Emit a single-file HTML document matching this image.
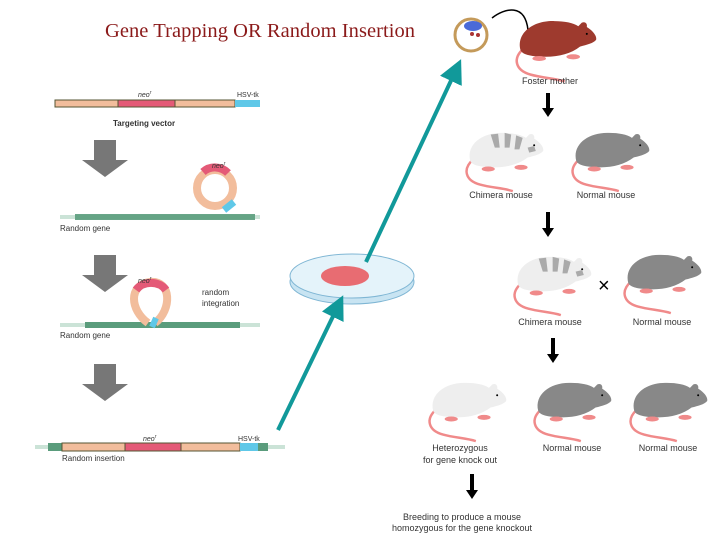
<!DOCTYPE html>
<html><head><style>
body{margin:0;background:#fff}
text{font-family:"Liberation Sans",sans-serif}
</style></head><body>
<svg width="728" height="546" viewBox="0 0 728 546" xmlns="http://www.w3.org/2000/svg">
<defs>
<g id="m">
<path d="M14,38 C0,50 4,64 22,69 C36,73 50,73 62,77" fill="none" stroke="#f08a8a" stroke-width="3"/>
<path d="M10,40 C5,20 25,5 50,6 C62,6 72,8 78,12 L82,8 C86,6 89,9 88,13 C96,18 100,24 99,28 C96,32 88,34 80,36 C70,44 55,48 40,48 C25,48 12,46 10,40 Z"/>
<ellipse cx="32" cy="50" rx="8" ry="3" fill="#f08a8a"/>
<ellipse cx="72" cy="48" rx="8" ry="3" fill="#f08a8a"/>
<circle cx="88" cy="21" r="1.2" fill="#000"/>
</g>
<g id="c">
<use href="#m" fill="#eeeeee"/>
<path d="M35,8 L40,24 L46,24 L44,7Z M52,6 L52,24 L58,24 L60,8Z M66,9 L64,26 L70,26 L74,12Z M80,24 L82,30 L90,28 L88,22Z" fill="#aaa"/>
</g>
<marker id="ta" markerWidth="6" markerHeight="6" refX="3" refY="3" orient="auto"><path d="M0,0 L6,3 L0,6Z" fill="#11999a"/></marker>
</defs>
<text x="105" y="37" font-size="20.5" fill="#8b1a1a" style="font-family:'Liberation Serif',serif" textLength="310">Gene Trapping OR Random Insertion</text>

<rect x="55" y="100" width="180" height="7" fill="#f2bd9c" stroke="#553" stroke-width="1"/>
<rect x="118" y="100" width="57" height="7" fill="#e45a77" stroke="#553" stroke-width="1"/>
<rect x="235" y="100" width="25" height="7" fill="#5fc8e8"/>
<text x="138" y="97" font-size="7" font-style="italic" fill="#333">neo<tspan font-size="5" dy="-3">r</tspan></text>
<text x="237" y="97" font-size="7" fill="#333">HSV-tk</text>
<text x="113" y="126" font-size="8" font-weight="bold" fill="#333">Targeting vector</text>

<g fill="#777">
<path d="M94,140 h22 v20 h12 l-23,17 l-23,-17 h12z"/>
<path d="M94,255 h22 v20 h12 l-23,17 l-23,-17 h12z"/>
<path d="M94,364 h22 v20 h12 l-23,17 l-23,-17 h12z"/>
</g>

<rect x="60" y="215" width="200" height="4" fill="#a8d0bc" opacity=".6"/>
<rect x="75" y="214" width="180" height="6" fill="#5a9c7c" opacity=".9"/>
<text x="60" y="231" font-size="8" fill="#333">Random gene</text>
<circle cx="215" cy="188" r="18" fill="none" stroke="#f2bd9c" stroke-width="8"/>
<path d="M203,172 A18,18 0 0 1 228,173" fill="none" stroke="#e45a77" stroke-width="8"/>
<path d="M224,210 L234,202" stroke="#5fc8e8" stroke-width="7"/>
<text x="212" y="168" font-size="7" font-style="italic" fill="#333">neo<tspan font-size="5" dy="-3">r</tspan></text>

<rect x="60" y="323" width="200" height="4" fill="#a8d0bc" opacity=".6"/>
<rect x="85" y="322" width="155" height="6" fill="#5a9c7c"/>
<text x="60" y="338" font-size="8" fill="#333">Random gene</text>
<path d="M148,323 C130,310 128,285 150,282 C172,280 172,310 155,323" fill="none" stroke="#f2bd9c" stroke-width="8"/>
<path d="M136,290 A18,16 0 0 1 166,290" fill="none" stroke="#e45a77" stroke-width="8"/>
<path d="M152,327 L156,318" stroke="#5fc8e8" stroke-width="6"/>
<text x="138" y="283" font-size="7" font-style="italic" fill="#333">neo<tspan font-size="5" dy="-3">r</tspan></text>
<text x="202" y="295" font-size="8" fill="#333">random</text>
<text x="202" y="306" font-size="8" fill="#333">integration</text>

<rect x="35" y="445" width="250" height="4" fill="#a8d0bc" opacity=".6"/>
<rect x="48" y="443" width="14" height="8" fill="#5a9c7c"/>
<rect x="62" y="443" width="178" height="8" fill="#f2bd9c" stroke="#553" stroke-width="1"/>
<rect x="125" y="443" width="56" height="8" fill="#e45a77" stroke="#553" stroke-width="1"/>
<rect x="240" y="443" width="18" height="8" fill="#5fc8e8"/>
<rect x="258" y="443" width="10" height="8" fill="#5a9c7c"/>
<text x="143" y="441" font-size="7" font-style="italic" fill="#333">neo<tspan font-size="5" dy="-3">r</tspan></text>
<text x="238" y="441" font-size="7" fill="#333">HSV-tk</text>
<text x="62" y="461" font-size="8" fill="#333">Random insertion</text>

<ellipse cx="352" cy="282" rx="62" ry="22" fill="#c8e4f2" stroke="#7fb6d4"/>
<ellipse cx="352" cy="276" rx="62" ry="22" fill="#e4f3fa" stroke="#7fb6d4"/>
<ellipse cx="345" cy="276" rx="24" ry="10" fill="#e86c72"/>

<line x1="278" y1="430" x2="338" y2="306" stroke="#11999a" stroke-width="4" marker-end="url(#ta)"/>
<line x1="366" y1="262" x2="456" y2="70" stroke="#11999a" stroke-width="4" marker-end="url(#ta)"/>

<circle cx="471" cy="35" r="16" fill="#fff" stroke="#c49a5a" stroke-width="3"/>
<ellipse cx="473" cy="26" rx="9" ry="5" fill="#4a6ad8"/>
<circle cx="472" cy="34" r="2" fill="#a33"/><circle cx="478" cy="35" r="2" fill="#a33"/>
<path d="M492,18 C505,8 525,3 528,30" fill="none" stroke="#000" stroke-width="1.5"/>

<use href="#m" fill="#9e3a2e" transform="translate(512,16) scale(0.85)"/>
<text x="550" y="84" font-size="9" fill="#333" text-anchor="middle">Foster mother</text>
<path d="M550,93 v15 h4 l-6,9 l-6,-9 h4 v-15z" fill="#000"/>

<use href="#c" transform="translate(462,128) scale(0.82)"/>
<text x="501" y="198" font-size="9" fill="#333" text-anchor="middle">Chimera mouse</text>
<use href="#m" fill="#888" transform="translate(568,128) scale(0.82)"/>
<text x="606" y="198" font-size="9" fill="#333" text-anchor="middle">Normal mouse</text>
<path d="M550,212 v16 h4 l-6,9 l-6,-9 h4 v-16z" fill="#000"/>

<use href="#c" transform="translate(510,252) scale(0.82)"/>
<text x="550" y="325" font-size="9" fill="#333" text-anchor="middle">Chimera mouse</text>
<text x="598" y="292" font-size="20" fill="#000">×</text>
<use href="#m" fill="#888" transform="translate(620,250) scale(0.82)"/>
<text x="662" y="325" font-size="9" fill="#333" text-anchor="middle">Normal mouse</text>
<path d="M555,338 v16 h4 l-6,9 l-6,-9 h4 v-16z" fill="#000"/>

<use href="#m" fill="#eeeeee" transform="translate(425,378) scale(0.82)"/>
<text x="460" y="451" font-size="9" fill="#333" text-anchor="middle">Heterozygous</text>
<text x="460" y="463" font-size="9" fill="#333" text-anchor="middle">for gene knock out</text>
<use href="#m" fill="#888" transform="translate(530,378) scale(0.82)"/>
<text x="572" y="451" font-size="9" fill="#333" text-anchor="middle">Normal mouse</text>
<use href="#m" fill="#888" transform="translate(626,378) scale(0.82)"/>
<text x="668" y="451" font-size="9" fill="#333" text-anchor="middle">Normal mouse</text>
<path d="M474,474 v16 h4 l-6,9 l-6,-9 h4 v-16z" fill="#000"/>
<text x="462" y="520" font-size="9" fill="#333" text-anchor="middle">Breeding to produce a mouse</text>
<text x="462" y="531" font-size="9" fill="#333" text-anchor="middle">homozygous for the gene knockout</text>
</svg>
</body></html>
